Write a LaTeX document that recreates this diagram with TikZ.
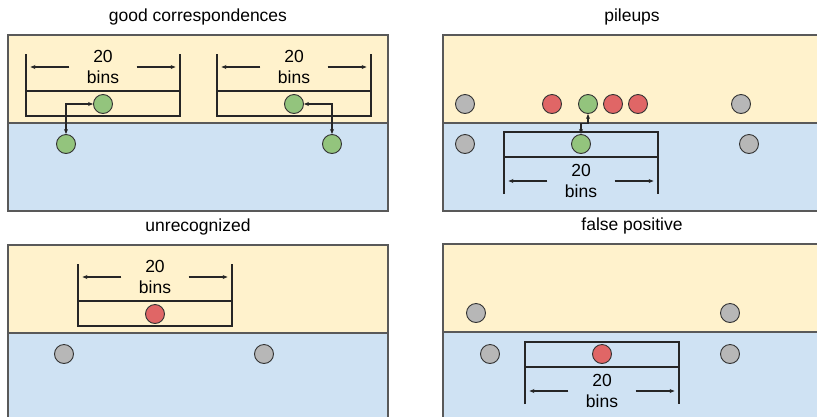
\documentclass[tikz,border=0pt]{standalone}
\usepackage{fontspec}
\setmainfont{Liberation Sans}
\usetikzlibrary{arrows.meta}
\definecolor{amarillo}{HTML}{FFF2CC}
\definecolor{celeste}{HTML}{CFE2F3}
\definecolor{verde}{HTML}{93C47D}
\definecolor{rojo}{HTML}{E06666}
\definecolor{gris}{HTML}{B7B7B7}
\definecolor{borde}{HTML}{595959}

\begin{document}
\begin{tikzpicture}[x=1pt,y=-1pt,>={Stealth[length=5pt,width=4pt]},
        font=\fontsize{17.5}{20.5}\selectfont,
        punto/.style={circle,draw=black!80,line width=0.9pt,minimum size=19pt,inner sep=0pt},
        panel/.style={draw=borde,line width=1.4pt},
        linea/.style={line width=1.1pt,black!85}]
        \clip (0,0) rectangle (817,416);
        % paneles (amarillo arriba, celeste abajo)
        \foreach \px/\py/\w in {8/35/380, 443/35/390, 8/245/380, 443/244/390}
        {
        \fill[amarillo] (\px,\py) rectangle ++(\w,88);
        \fill[celeste] (\px,\py+88) rectangle ++(\w,88);
        \draw[panel] (\px,\py) rectangle ++(\w,176);
        \draw[panel] (\px,\py+88) -- ++(\w,0);
        }
        % titulos
        \node (t1) at (198,17) {good correspondences};
        \node (t2) at (632,17) {pileups};
        \node (t3) at (198,227) {unrecognized};
        \node (t4) at (632,226) {false positive};
        % ventanas de 20 bins
        \foreach \cx/\cy/\s in {103/104/-1, 294/104/-1, 155/314/-1, 581/144/1, 602/354/1}
        {
        \draw[linea] (\cx-77,{\cy+\s*50}) -- (\cx-77,{\cy-\s*12}) -- (\cx+77,{\cy-\s*12}) -- (\cx+77,{\cy+\s*50});
        \draw[linea] (\cx-77,{\cy+\s*13}) -- (\cx+77,{\cy+\s*13});
        \node[align=center] (n\cx) at (\cx,{\cy+\s*37}) {20\\bins};
        \draw[linea,->] ([xshift=-14]n\cx.west) -- ++(-39,0);
        \draw[linea,->] ([xshift=14]n\cx.east) -- ++(39,0);
        }
        % good correspondences
        \node[punto,fill=verde] (g1a) at (103,104) {};
        \node[punto,fill=verde] (g1b) at (66,144) {};
        \node[punto,fill=verde] (g2a) at (294,104) {};
        \node[punto,fill=verde] (g2b) at (332,144) {};
        \draw[linea,<->] (g1b) |- (g1a);
        \draw[linea,<->] (g2b) |- (g2a);
        % pileups
        \node[punto,fill=gris] (p1) at (465,104) {};
        \node[punto,fill=rojo] (p2) at (552,104) {};
        \node[punto,fill=verde] (pa) at (588,104) {};
        \node[punto,fill=rojo] (p3) at (613,104) {};
        \node[punto,fill=rojo] (p4) at (638,104) {};
        \node[punto,fill=gris] (p5) at (741,104) {};
        \node[punto,fill=gris] (p6) at (465,144) {};
        \node[punto,fill=verde] (pb) at (581,144) {};
        \node[punto,fill=gris] (p7) at (749,144) {};
        \draw[linea,<->] (pb.north) -- ++(0,-11) -| (pa);
        % unrecognized
        \node[punto,fill=rojo] (u1) at (155,314) {};
        \node[punto,fill=gris] (u2) at (64,354) {};
        \node[punto,fill=gris] (u3) at (264,354) {};
        % false positive
        \node[punto,fill=gris] (f1) at (476,313) {};
        \node[punto,fill=gris] (f2) at (730,313) {};
        \node[punto,fill=gris] (f3) at (490,354) {};
        \node[punto,fill=rojo] (f4) at (602,354) {};
        \node[punto,fill=gris] (f5) at (730,354) {};
\end{tikzpicture}
\end{document}
